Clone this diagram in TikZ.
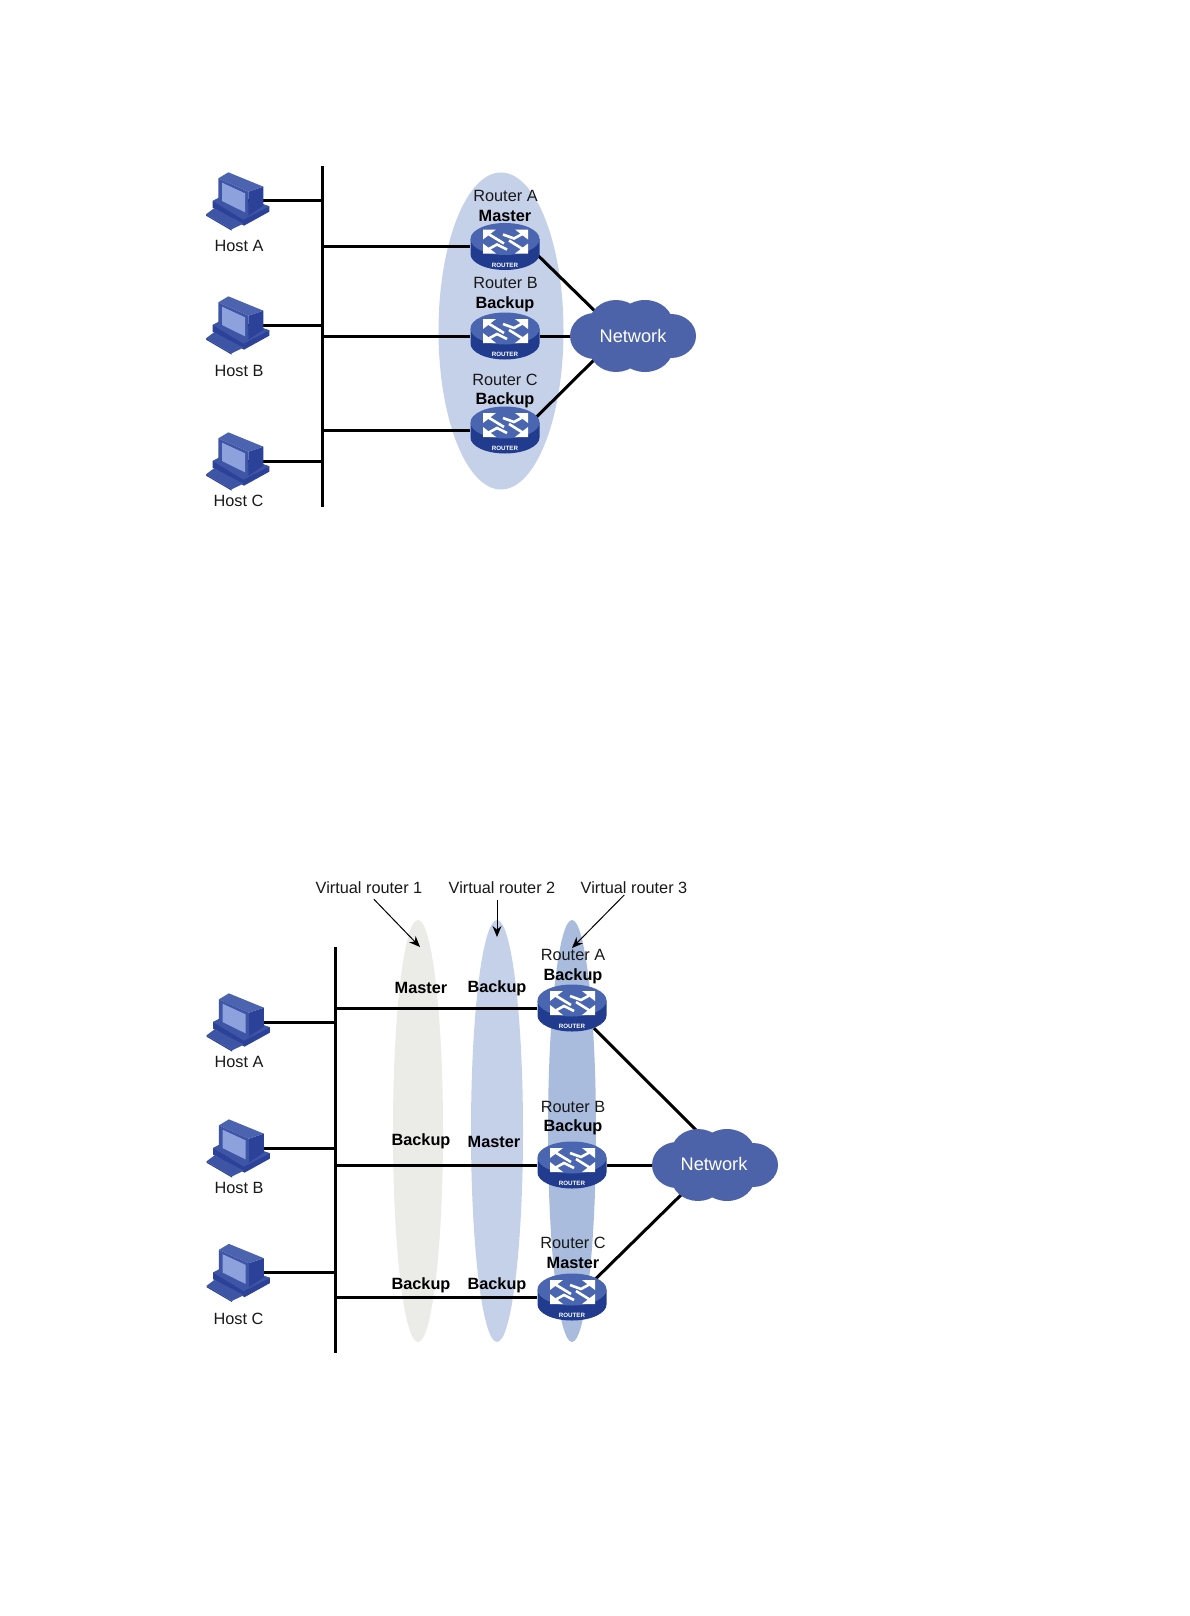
\documentclass[tikz,border=0pt]{standalone}
\usepackage{fontspec}
\setmainfont{Liberation Sans}
\usetikzlibrary{arrows.meta,backgrounds}
\pgfdeclarelayer{shade}
\pgfdeclarelayer{links}
\pgfsetlayers{shade,links,main}
\definecolor{vrgrey}{HTML}{EBEBE8}
\definecolor{vrlight}{HTML}{C5D0E9}
\definecolor{vrmid}{HTML}{A9BCDD}
\definecolor{cloudblue}{HTML}{4C63A9}
\definecolor{rtop}{HTML}{4A66B0}
\definecolor{rside}{HTML}{213C8E}
\definecolor{pcbody}{HTML}{3E55A6}
\definecolor{pcdark}{HTML}{2C4298}
\definecolor{pctop}{HTML}{4C63B0}
\definecolor{pcscreen}{HTML}{8DA2DC}
\tikzset{
  lab/.style={font=\fontsize{16.3}{18}\selectfont,inner sep=0pt,text=black!90,yshift=-1pt,xshift=1pt},
  blab/.style={font=\fontsize{16.3}{18}\selectfont\bfseries,inner sep=0pt,text=black,yshift=-1pt,xshift=1pt},
  netlab/.style={font=\fontsize{18.2}{20}\selectfont,inner sep=0pt,text=white},
  hostbox/.style={minimum width=62pt,minimum height=58pt,inner sep=0pt},
  routerbox/.style={minimum width=69pt,minimum height=47pt,inner sep=0pt},
  link/.style={line width=3pt,black},
  pointer/.style={line width=1pt,black,-{Stealth[length=11pt,width=9pt]}}
}
\newcommand{\hosticon}[1]{%
  \begin{scope}[shift={(#1)},x=.3333pt,y=-.3333pt,shift={(-114,-108)}]
    \fill[pcdark] (38,108)--(60,98)--(190,118)--(208,124)--(208,140)--(132,182)--(38,128)--cycle;
    \fill[pcbody] (38,108)--(60,96)--(145,140)--(190,118)--(208,124)--(130,164)--cycle;
    \fill[pcbody] (18,148)--(42,130)--(130,176)--(95,193)--cycle;
    \fill[pcdark] (18,148)--(95,193)--(95,197)--(18,152)--cycle;
    \fill[pcdark] (145,80)--(190,65)--(190,122)--(145,152)--cycle;
    \fill[pctop] (55,40)--(85,22)--(190,65)--(145,80)--cycle;
    \fill[pcbody] (55,40)--(145,80)--(145,152)--(55,112)--cycle;
    \fill[pcscreen] (66,53)--(135,85)--(135,142)--(66,108)--cycle;
  \end{scope}}
\newcommand{\routericon}[1]{%
  \begin{scope}[shift={(#1)}]
    \fill[rside] (-34.5,-7.5) -- (-34.5,7.5) arc[start angle=180,end angle=0,x radius=34.5,y radius=16] -- (34.5,-7.5) -- cycle;
    \fill[rtop] (0,-7.5) ellipse[x radius=34.5,y radius=16];
    \fill[white] (-22,-17)--(-9,-17)--(-22,-7)--cycle;
    \fill[white] (23,-17)--(10,-17)--(23,-7)--cycle;
    \fill[white] (-22,7)--(-9,7)--(-22,-3)--cycle;
    \fill[white] (23,7)--(10,7)--(23,-3)--cycle;
    \draw[white,line width=2.6pt] (-19,-14)--(-1,-3);
    \draw[white,line width=2.6pt] (20,4)--(4,-6);
    \draw[white,line width=2.6pt] (20,-14)--(9,-8)--(-2,-12);
    \draw[white,line width=2.6pt] (-19,4)--(-8,-2)--(2,3);
    \node[inner sep=0pt,text=white,font=\fontsize{6.2}{7}\selectfont\bfseries] (#1text) at (0,18.5) {ROUTER};
  \end{scope}}
\newcommand{\cloudicon}[1]{%
  \begin{scope}[shift={(#1)}]
    \fill[cloudblue] (-38,0) ellipse[x radius=25,y radius=23];
    \fill[cloudblue] (38,0) ellipse[x radius=25,y radius=22];
    \fill[cloudblue] (-17,-12) ellipse[x radius=27,y radius=24];
    \fill[cloudblue] (12,-12) ellipse[x radius=28,y radius=24];
    \fill[cloudblue] (-17,12) ellipse[x radius=27,y radius=24];
    \fill[cloudblue] (12,12) ellipse[x radius=28,y radius=24];
  \end{scope}}
\begin{document}
\begin{tikzpicture}[x=1pt,y=-1pt]
\useasboundingbox (0,0) rectangle (1190,1616);
%% ---------- upper diagram ----------
\begin{pgfonlayer}{shade}
  \fill[white] (0,0) rectangle (1190,1616);
  \fill[vrlight] (501,331) ellipse[x radius=62.5,y radius=158.5];
\end{pgfonlayer}
\coordinate (busAtop) at (322.7,166);
\coordinate (busAbot) at (322.7,507);
\node[hostbox] (hostA1) at (238,201) {};
\node[hostbox] (hostB1) at (238,325) {};
\node[hostbox] (hostC1) at (238,461) {};
\hosticon{hostA1}\hosticon{hostB1}\hosticon{hostC1}
\node[lab] (hostA1l) at (238,245) {Host A};
\node[lab] (hostB1l) at (238,370) {Host B};
\node[lab] (hostC1l) at (237.5,500) {Host C};
\node[routerbox] (rA1) at (505,246.5) {};
\node[routerbox] (rB1) at (505,336) {};
\node[routerbox] (rC1) at (505,430) {};
\routericon{rA1}\routericon{rB1}\routericon{rC1}
\node[lab] (rA1n) at (504.5,195) {Router A};
\node[blab] (rA1s) at (504,215) {Master};
\node[lab] (rB1n) at (504.5,282) {Router B};
\node[blab] (rB1s) at (504,303) {Backup};
\node[lab] (rC1n) at (504,379) {Router C};
\node[blab] (rC1s) at (504,399) {Backup};
\cloudicon{633,336}
\node[netlab] (net1) at (633,336) {Network};
\coordinate (net1a) at (600,316);
\coordinate (net1c) at (600,354);
\begin{pgfonlayer}{links}
  \draw[link] (busAtop) -- (busAbot);
  \draw[link] (hostA1.center) -- (hostA1.center -| busAtop);
  \draw[link] (hostB1.center) -- (hostB1.center -| busAtop);
  \draw[link] (hostC1.center) -- (hostC1.center -| busAtop);
  \draw[link] (rA1) -- (rA1 -| busAtop);
  \draw[link] (rB1) -- (rB1 -| busAtop);
  \draw[link] (rC1) -- (rC1 -| busAtop);
  \draw[link,shorten <=-8pt] (rA1.-17) -- (net1a);
  \draw[link] (rB1) -- (rB1 -| net1);
  \draw[link,shorten <=-8pt] (rC1.25) -- (net1c);
\end{pgfonlayer}
%% ---------- lower diagram ----------
\begin{pgfonlayer}{shade}
  \fill[vrgrey] (418,1131) ellipse[x radius=25,y radius=211];
  \fill[vrlight] (497,1131) ellipse[x radius=26,y radius=211];
  \fill[vrmid] (572,1131) ellipse[x radius=24,y radius=211];
\end{pgfonlayer}
\coordinate (busBtop) at (335.8,947);
\coordinate (busBbot) at (335.8,1353);
\node[hostbox] (hostA2) at (238.5,1022) {};
\node[hostbox] (hostB2) at (238.5,1148) {};
\node[hostbox] (hostC2) at (238.5,1272.5) {};
\hosticon{hostA2}\hosticon{hostB2}\hosticon{hostC2}
\node[lab] (hostA2l) at (238,1061) {Host A};
\node[lab] (hostB2l) at (238,1187) {Host B};
\node[lab] (hostC2l) at (237.5,1318) {Host C};
\node[routerbox] (rA2) at (572,1008) {};
\node[routerbox] (rB2) at (572,1165) {};
\node[routerbox] (rC2) at (572,1297) {};
\routericon{rA2}\routericon{rB2}\routericon{rC2}
\node[lab] (rA2n) at (572,954) {Router A};
\node[blab] (rA2s) at (572,975) {Backup};
\node[lab] (rB2n) at (572,1105.5) {Router B};
\node[blab] (rB2s) at (572,1126) {Backup};
\node[lab] (rC2n) at (572,1241.5) {Router C};
\node[blab] (rC2s) at (572,1261.5) {Master};
\node[blab] (a1) at (420,987) {Master};
\node[blab] (a2) at (496,987) {Backup};
\node[blab] (b1) at (420,1140.5) {Backup};
\node[blab] (b2) at (493,1140.5) {Master};
\node[blab] (c1) at (420,1284) {Backup};
\node[blab] (c2) at (496,1284) {Backup};
\node[lab] (vr1) at (368,887) {Virtual router 1};
\node[lab] (vr2) at (501,887) {Virtual router 2};
\node[lab] (vr3) at (633,887) {Virtual router 3};
\coordinate (vt1) at (420,947);
\coordinate (vt2) at (497,937);
\coordinate (vt3) at (572,948);
\coordinate (vs3) at ([xshift=-9pt]vr3.south);
\draw[pointer,shorten <=7pt] (vr1.south) -- (vt1);
\draw[pointer,shorten <=6pt] (vr2.south -| vt2) -- (vt2);
\draw[pointer,shorten <=1pt] (vs3) -- (vt3);
\cloudicon{715,1165}
\node[netlab] (net2) at (714,1164) {Network};
\coordinate (net2a) at (700,1134);
\coordinate (net2c) at (685,1191);
\begin{pgfonlayer}{links}
  \draw[link] (busBtop) -- (busBbot);
  \draw[link] (hostA2.center) -- (hostA2.center -| busBtop);
  \draw[link] (hostB2.center) -- (hostB2.center -| busBtop);
  \draw[link] (hostC2.center) -- (hostC2.center -| busBtop);
  \draw[link] (rA2) -- (rA2 -| busBtop);
  \draw[link] (rB2) -- (rB2 -| busBtop);
  \draw[link] (rC2) -- (rC2 -| busBtop);
  \draw[link,shorten <=-5pt] (rA2.-43) -- (net2a);
  \draw[link] (rB2) -- (rB2 -| net2);
  \draw[link,shorten <=-8pt] (rC2.39) -- (net2c);
\end{pgfonlayer}
\end{tikzpicture}
\end{document}
